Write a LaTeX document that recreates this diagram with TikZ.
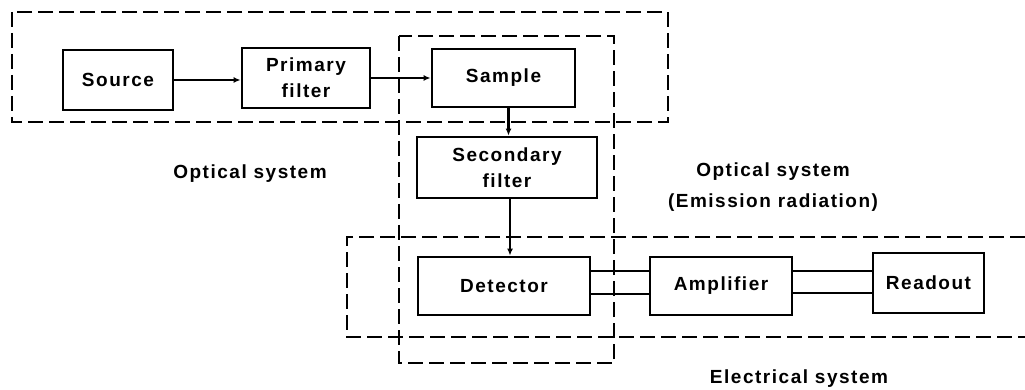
\documentclass[tikz,border=0pt]{standalone}
\usepackage{fontspec}
\setmainfont{Liberation Sans}[LetterSpace=8]
\usetikzlibrary{arrows.meta}
\begin{document}
\begin{tikzpicture}[x=1pt,y=-1pt,
  blk/.style={draw, line width=2.8pt, inner sep=0pt, align=center,
    font=\bfseries\fontsize{19}{26}\selectfont},
  lbl/.style={inner sep=0pt, align=center, font=\bfseries\fontsize{19}{31}\selectfont},
  dsh/.style={draw, dash pattern=on 15pt off 6pt, line width=2.8pt},
  conn/.style={line width=2.4pt},
  arr/.style={line width=2.4pt, -{Latex[length=7pt,width=6pt]}}
]
\useasboundingbox (0,0) rectangle (1025,390);

% dashed enclosures
\draw[dsh] (12,12) rectangle (668,122);
\draw[dsh] (399,36) rectangle (614,363);
\draw[dsh] (1025,237) -- (347,237) -- (347,337) -- (1025,337);

% blocks
\node[blk, minimum width=110pt, minimum height=60pt] (src) at (118,80) {Source};
\node[blk, minimum width=128pt, minimum height=60pt] (pf) at (306,78) {Primary\\filter};
\node[blk, minimum width=143pt, minimum height=58pt, fill=white] (smp) at (503.5,78) {Sample};
\node[blk, minimum width=180pt, minimum height=61pt, fill=white] (sf) at (507,167.5) {Secondary\\filter};
\node[blk, minimum width=172pt, minimum height=58pt, fill=white] (det) at (504,286) {Detector};
\node[blk, minimum width=142pt, minimum height=58pt] (amp) at (721,286) {Amplifier};
\node[blk, minimum width=111pt, minimum height=60pt] (ro) at (928.5,283) {Readout};

% connectors
\draw[arr] (src.east) -- (src.east -| pf.west);
\draw[arr] (pf.east) -- (pf.east -| smp.west);
\draw[arr] ([xshift=5pt]smp.south) -- ([xshift=5pt]smp.south |- sf.north);
\draw[arr] ([xshift=3pt]sf.south) -- ([xshift=3pt]sf.south |- det.north);
\draw[conn] ([yshift=15pt]det.east) -- ([yshift=15pt]det.east -| amp.west);
\draw[conn] ([yshift=-8pt]det.east) -- ([yshift=-8pt]det.east -| amp.west);
\draw[conn] ([yshift=15pt]amp.east) -- ([yshift=15pt]amp.east -| ro.west);
\draw[conn] ([yshift=-7pt]amp.east) -- ([yshift=-7pt]amp.east -| ro.west);

% labels
\node[lbl] (l1) at (250,174) {Optical system};
\node[lbl] (l2) at (773,187) {Optical system\\(Emission radiation)};
\node[lbl] (l3) at (799,379) {Electrical system};
\end{tikzpicture}
\end{document}
